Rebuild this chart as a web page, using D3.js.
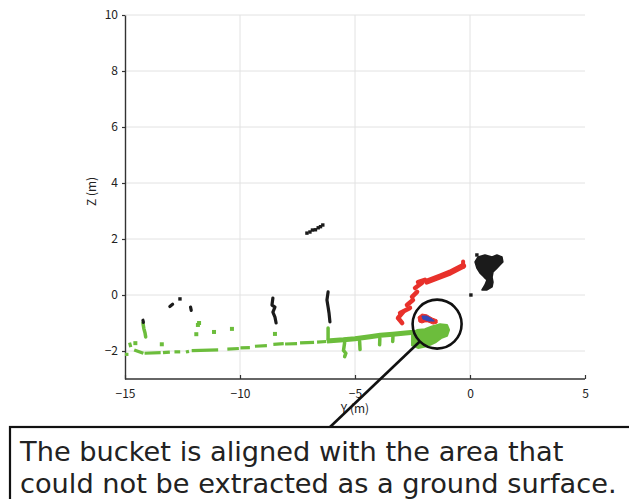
<!DOCTYPE html>
<html><head><meta charset="utf-8">
<script src="https://cdn.jsdelivr.net/npm/d3@7"></script>
<style>body{margin:0;background:#fff}svg{display:block}</style>
</head><body>
<svg id="c" width="629" height="499"></svg>
<script>
// ---------- data (Y, Z in metres) ----------
const xTicks = [-15, -10, -5, 0, 5];
const yTicks = [-2, 0, 2, 4, 6, 8, 10];
const xLabel = "Y (m)";
const yLabel = "Z (m)";
const note = ["The bucket is aligned with the area that", "could not be extracted as a ground surface."];

// ground (green) dashed strokes
const groundDashes = [
  [[-15.0,-2.12],[-14.85,-2.12]],
  [[-14.8,-1.7],[-14.75,-1.86]],
  [[-14.6,-1.96],[-14.2,-2.08]],
  [[-14.15,-2.08],[-13.45,-2.06]],
  [[-13.35,-2.06],[-13.05,-2.04]],
  [[-12.85,-2.03],[-12.6,-2.03]],
  [[-12.3,-1.97],[-12.27,-2.08]],
  [[-12.1,-1.99],[-10.95,-1.96]],
  [[-10.55,-1.93],[-10.05,-1.91]],
  [[-9.98,-1.89],[-9.57,-1.88]],
  [[-9.35,-1.83],[-8.83,-1.81]],
  [[-8.55,-1.76],[-8.1,-1.74]],
  [[-8.04,-1.75],[-7.52,-1.74]],
  [[-7.39,-1.71],[-6.78,-1.69]],
  [[-6.65,-1.68],[-6.25,-1.66]]
];
const groundBand = [[-6.22,-1.64],[-5.5,-1.6],[-5.0,-1.56],[-4.35,-1.49],[-3.9,-1.44],[-3.35,-1.4],[-2.8,-1.36],[-2.45,-1.33]];
const groundDrops = [
  [[-6.17,-1.18],[-6.17,-1.6]],
  [[-5.45,-1.7],[-5.5,-1.98],[-5.4,-2.08],[-5.45,-2.2]],
  [[-4.8,-1.65],[-4.78,-1.95]],
  [[-3.92,-1.55],[-3.93,-1.78]],
  [[-3.35,-1.48],[-3.36,-1.66]],
  [[-14.22,-1.0],[-14.18,-1.2],[-14.13,-1.35],[-14.1,-1.5]]
];
const groundDots = [[-11.83,-1.07],[-11.78,-1.0],[-11.9,-1.4],[-11.13,-1.32],[-10.35,-1.21],[-13.4,-1.76],[-8.48,-1.39],[-14.55,-1.72]];
const groundBlob = [[-2.52,-1.36],[-2.3,-1.25],[-1.96,-1.22],[-1.65,-1.12],[-1.3,-1.04],[-1.0,-1.07],[-0.91,-1.25],[-1.0,-1.46],[-1.26,-1.54],[-1.48,-1.68],[-1.83,-1.82],[-2.26,-1.89],[-2.52,-1.8]];

// bucket / arm (red)
const armPieces = [
  [[-3.13,-0.82],[-2.91,-0.61]],
  [[-2.95,-1.0],[-3.1,-0.85]],
  [[-3.04,-0.64],[-2.61,-0.46]],
  [[-2.74,-0.36],[-2.48,-0.18]],
  [[-2.52,-0.07],[-2.3,0.11]],
  [[-2.39,0.25],[-2.09,0.43]],
  [[-2.26,0.46],[-1.96,0.54]]
];
const armBand = [[-1.87,0.48],[-1.3,0.66],[-0.87,0.8],[-0.3,1.04]];
const armTip = [[-0.3,1.0],[-0.3,1.2]];
const bucketRed = [[-2.26,-0.79],[-2.09,-0.68],[-1.87,-0.71],[-1.65,-0.82],[-1.43,-0.89],[-1.43,-1.0],[-1.6,-1.04],[-1.83,-0.96],[-1.96,-0.96],[-2.09,-1.0],[-2.22,-0.96]];
const bucketBlue = [[-2.09,-0.75],[-1.87,-0.75],[-1.65,-0.86],[-1.55,-0.93],[-1.8,-0.93],[-2.05,-0.86]];

// obstacles (black)
const blackStrokes = [
  [[-8.57,-0.11],[-8.61,-0.36],[-8.48,-0.43],[-8.57,-0.61],[-8.48,-0.79],[-8.43,-1.0]],
  [[-6.17,0.11],[-6.22,-0.18],[-6.17,-0.43],[-6.13,-0.64],[-6.09,-0.96]],
  [[-14.22,-0.9],[-14.2,-0.98]],
  [[-13.05,-0.41],[-12.93,-0.33]],
  [[-12.15,-0.43],[-12.12,-0.55]]
];
const blackDots = [[-12.61,-0.14],[0.04,0.0],[-7.09,2.21],[-6.96,2.25],[-6.85,2.32],[-6.72,2.33],[-6.6,2.4],[-6.5,2.44],[-6.4,2.5],[0.3,1.43]];
const blackBlob = [[0.35,1.36],[0.65,1.43],[0.96,1.36],[1.17,1.43],[1.39,1.36],[1.43,1.18],[1.3,1.07],[1.17,0.96],[1.0,0.82],[0.96,0.64],[1.0,0.46],[0.96,0.29],[0.74,0.18],[0.52,0.18],[0.65,0.36],[0.74,0.54],[0.61,0.64],[0.43,0.79],[0.3,0.96],[0.22,1.18]];

// annotation (circle centre in data units)
const ringCentre = [-1.43, -1.04];

// ---------- drawing ----------
const svg = d3.select("#c");
const x = d3.scaleLinear().domain([-15, 5]).range([125, 585]);
const y = d3.scaleLinear().domain([-3, 10]).range([379, 15]);
const line = d3.line().x(d => x(d[0])).y(d => y(d[1]));
const font = "'Noto Sans CJK JP', 'DejaVu Sans', sans-serif";
const GREEN = "#6cbd3c", RED = "#e8312b", BLACK = "#1b1b1b", BLUE = "#3448b8";

// grid
svg.append("g").selectAll("line").data(xTicks.filter(t => t > -15 && t < 5)).join("line")
  .attr("x1", d => x(d)).attr("x2", d => x(d)).attr("y1", y(10)).attr("y2", y(-3))
  .attr("stroke", "#e2e2e2").attr("stroke-width", 1);
svg.append("g").selectAll("line").data(yTicks).join("line")
  .attr("x1", x(-15)).attr("x2", x(5)).attr("y1", d => y(d)).attr("y2", d => y(d))
  .attr("stroke", "#e2e2e2").attr("stroke-width", 1);

// axes
const xa = svg.append("g").attr("transform", `translate(0,${y(-3)})`)
  .call(d3.axisBottom(x).tickValues(xTicks).tickSizeInner(-4).tickSizeOuter(0).tickPadding(10)
    .tickFormat(d => d < 0 ? "\u2212" + Math.abs(d) : d));
const ya = svg.append("g").attr("transform", `translate(${x(-15)},0)`)
  .call(d3.axisLeft(y).tickValues(yTicks).tickSize(3).tickSizeOuter(0).tickPadding(4)
    .tickFormat(d => d < 0 ? "\u2212" + Math.abs(d) : d));
[xa, ya].forEach(a => {
  a.select(".domain").attr("stroke", "#333").attr("stroke-width", 1.4);
  a.selectAll(".tick line").attr("stroke", "#333").attr("stroke-width", 1.2);
  a.selectAll("text").attr("font-family", font).attr("font-size", 12).attr("fill", "#222");
});
xa.select(".domain").attr("d", `M${x(-15)},0H${x(5)}`);

svg.append("text").attr("x", 355).attr("y", 413).attr("text-anchor", "middle")
  .attr("font-family", font).attr("font-size", 12).attr("fill", "#222").text(xLabel);
svg.append("text").attr("transform", `translate(96,${y(3.7)}) rotate(-90)`).attr("text-anchor", "middle")
  .attr("font-family", font).attr("font-size", 12).attr("fill", "#222").text(yLabel);

// green ground
const g = svg.append("g");
g.selectAll(".gd").data(groundDashes).join("path").attr("d", line)
  .attr("fill", "none").attr("stroke", GREEN).attr("stroke-width", 3.2);
g.append("path").attr("d", line(groundBand)).attr("fill", "none").attr("stroke", GREEN)
  .attr("stroke-width", 5).attr("stroke-linejoin", "round");
g.selectAll(".gdr").data(groundDrops).join("path").attr("d", line)
  .attr("fill", "none").attr("stroke", GREEN).attr("stroke-width", 3.5).attr("stroke-linecap", "round");
g.selectAll("rect").data(groundDots).join("rect")
  .attr("x", d => x(d[0]) - 2).attr("y", d => y(d[1]) - 2).attr("width", 4).attr("height", 4).attr("fill", GREEN);
g.append("path").attr("d", line(groundBlob) + "Z").attr("fill", GREEN).attr("stroke", GREEN)
  .attr("stroke-width", 2).attr("stroke-linejoin", "round");

// red arm + bucket
const r = svg.append("g");
r.selectAll(".ap").data(armPieces).join("path").attr("d", line)
  .attr("fill", "none").attr("stroke", RED).attr("stroke-width", 4.5).attr("stroke-linecap", "round");
r.append("path").attr("d", line(armBand)).attr("fill", "none").attr("stroke", RED)
  .attr("stroke-width", 6).attr("stroke-linecap", "round").attr("stroke-linejoin", "round");
r.append("path").attr("d", line(armTip)).attr("fill", "none").attr("stroke", RED)
  .attr("stroke-width", 4).attr("stroke-linecap", "round");
r.append("path").attr("d", line(bucketRed) + "Z").attr("fill", RED).attr("stroke", RED).attr("stroke-width", 1);
r.append("path").attr("d", line(bucketBlue) + "Z").attr("fill", BLUE).attr("stroke", BLUE).attr("stroke-width", 1);

// black obstacles
const b = svg.append("g");
b.selectAll(".bs").data(blackStrokes).join("path").attr("d", line)
  .attr("fill", "none").attr("stroke", BLACK).attr("stroke-width", 3.2).attr("stroke-linecap", "round").attr("stroke-linejoin", "round");
b.selectAll("rect").data(blackDots).join("rect")
  .attr("x", d => x(d[0]) - 1.7).attr("y", d => y(d[1]) - 1.7).attr("width", 3.4).attr("height", 3.4).attr("fill", BLACK);
b.append("path").attr("d", line(blackBlob) + "Z").attr("fill", BLACK).attr("stroke", BLACK)
  .attr("stroke-width", 1.5).attr("stroke-linejoin", "round");

// annotation: ring, leader, text box
const cx = x(ringCentre[0]), cy = y(ringCentre[1]), rr = 24.5;
svg.append("circle").attr("cx", cx).attr("cy", cy).attr("r", rr)
  .attr("fill", "none").attr("stroke", "#111").attr("stroke-width", 2.6);
const ang = Math.PI * 0.75;
svg.append("line").attr("x1", cx + rr * Math.cos(ang)).attr("y1", cy + rr * Math.sin(ang))
  .attr("x2", 329).attr("y2", 428).attr("stroke", "#111").attr("stroke-width", 2.6);
svg.append("rect").attr("x", 10).attr("y", 427).attr("width", 640).attr("height", 100)
  .attr("fill", "#fff").attr("stroke", "#111").attr("stroke-width", 2.2);
const t2 = svg.append("g");
note.forEach((s, i) => {
  t2.append("text").attr("x", 20).attr("y", 461 + i * 32).attr("font-family", "'DejaVu Sans', Verdana, sans-serif")
    .attr("font-size", 25).attr("fill", "#222").text(s);
});
// fit font so line 2 spans ~597px
const w = t2.selectAll("text").nodes()[1].getComputedTextLength();
const fs = 25 * 597 / w;
t2.selectAll("text").attr("font-size", fs);
</script>
</body></html>
